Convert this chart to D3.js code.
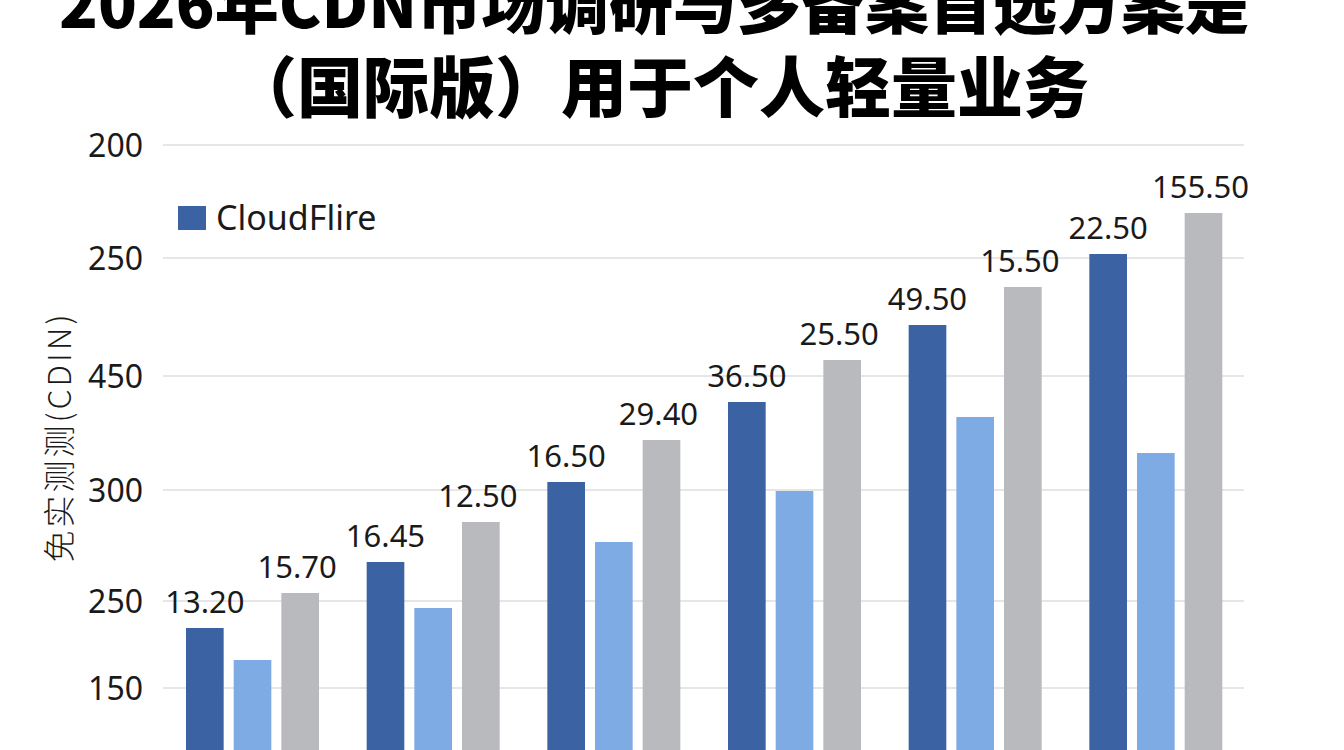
<!DOCTYPE html>
<html lang="zh">
<head>
    <meta charset="UTF-8">
    <title>2026年CDN市场调研</title>
    <script src="https://d3js.org/d3.v7.min.js"></script>
    <style>
        body { margin: 0; background: #fff; }
        svg { display: block; }
        .tick-label { font-family: "Noto Sans", "Open Sans", sans-serif; font-size: 32px; fill: #1a1a1a; }
        .val { font-family: "Noto Sans", "Open Sans", sans-serif; font-size: 31px; fill: #1a1a1a; }
    </style>
</head>
<body>
<svg id="chart"></svg>
<script>
    const width = 1344, height = 750;

    // data (bar heights in chart units, labels as printed)
    const groups = ["g1", "g2", "g3", "g4", "g5", "g6"];
    const series = ["dark", "light", "gray"];
    const darkValues  = [217, 283, 363, 443, 520, 591];
    const lightValues = [185, 237, 303, 354, 428, 392];
    const grayValues  = [252, 323, 405, 485, 558, 632];
    const darkLabels  = ["13.20", "16.45", "16.50", "36.50", "49.50", "22.50"];
    const grayLabels  = ["15.70", "12.50", "29.40", "25.50", "15.50", "155.50"];
    const tickValues  = [700, 587, 469, 355, 244, 157];
    const tickLabels  = ["200", "250", "450", "300", "250", "150"];
    const colors = { dark: "#3b63a3", light: "#7eabe3", gray: "#b9babe" };

    const svg = d3.select("#chart").attr("width", width).attr("height", height);

    const y = d3.scaleLinear().domain([0, 700]).range([845, 145]);
    const x0 = d3.scaleBand().domain(groups).range([162, 1246]);
    const x1 = d3.scaleBand().domain(series).range([24, 157]).paddingInner(0.21);

    // gridlines
    svg.append("g")
        .selectAll("line").data(tickValues).join("line")
        .attr("x1", 163).attr("x2", 1244)
        .attr("y1", d => y(d)).attr("y2", d => y(d))
        .attr("stroke", "#e6e6e6").attr("stroke-width", 2);

    // y tick labels (as printed on the original)
    svg.append("g")
        .selectAll("text").data(tickValues).join("text")
        .attr("class", "tick-label")
        .attr("x", 143).attr("y", d => y(d))
        .attr("dy", "0.36em")
        .attr("text-anchor", "end")
        .text((d, i) => tickLabels[i]);

    const rows = groups.map((g, i) => ({
        g, dark: darkValues[i], light: lightValues[i], gray: grayValues[i],
        darkLabel: darkLabels[i], grayLabel: grayLabels[i]
    }));

    const gEl = svg.append("g").selectAll("g").data(rows).join("g")
        .attr("transform", d => `translate(${x0(d.g)},0)`);

    gEl.selectAll("rect")
        .data(d => series.map(s => ({ s, v: d[s] })))
        .join("rect")
        .attr("x", d => x1(d.s))
        .attr("width", x1.bandwidth())
        .attr("y", d => y(d.v))
        .attr("height", d => y(0) - y(d.v))
        .attr("fill", d => colors[d.s]);

    gEl.append("text").attr("class", "val")
        .attr("x", x1("dark") + x1.bandwidth() / 2)
        .attr("y", d => y(d.dark) - 15)
        .attr("text-anchor", "middle")
        .text(d => d.darkLabel);

    gEl.append("text").attr("class", "val")
        .attr("x", x1("gray") + x1.bandwidth() / 2 - 3)
        .attr("y", d => y(d.gray) - 15)
        .attr("text-anchor", "middle")
        .text(d => d.grayLabel);

    // legend
    svg.append("rect").attr("x", 178).attr("y", 206).attr("width", 28).attr("height", 24)
        .attr("fill", colors.dark);
    svg.append("text").attr("x", 216).attr("y", 230)
        .attr("font-family", "Noto Sans, Open Sans, sans-serif").attr("font-size", 34)
        .attr("fill", "#1a1a1a")
        .text("CloudFlire");

    // y axis title
    svg.append("text")
        .attr("transform", "translate(71,437) rotate(-90)")
        .attr("text-anchor", "middle")
        .attr("font-family", "Noto Sans CJK SC, sans-serif").attr("font-size", 32)
        .attr("font-weight", 300)
        .attr("letter-spacing", 3)
        .attr("fill", "#1a1a1a")
        .text("免实测测(CDIN)");

    // title (top line partly cut off by the frame, as in the original)
    const title = svg.append("g")
        .attr("font-family", "Noto Sans CJK SC, sans-serif")
        .attr("font-weight", 900).attr("font-size", 64)
        .attr("text-anchor", "middle").attr("fill", "#000");
    title.append("text").attr("x", 654).attr("y", 28).text("2026年CDN市场调研与多备案首选方案是");
    title.append("text").attr("x", 660).attr("y", 112)
        .attr("font-size", 66).text("（国际版）用于个人轻量业务");
</script>
</body>
</html>
